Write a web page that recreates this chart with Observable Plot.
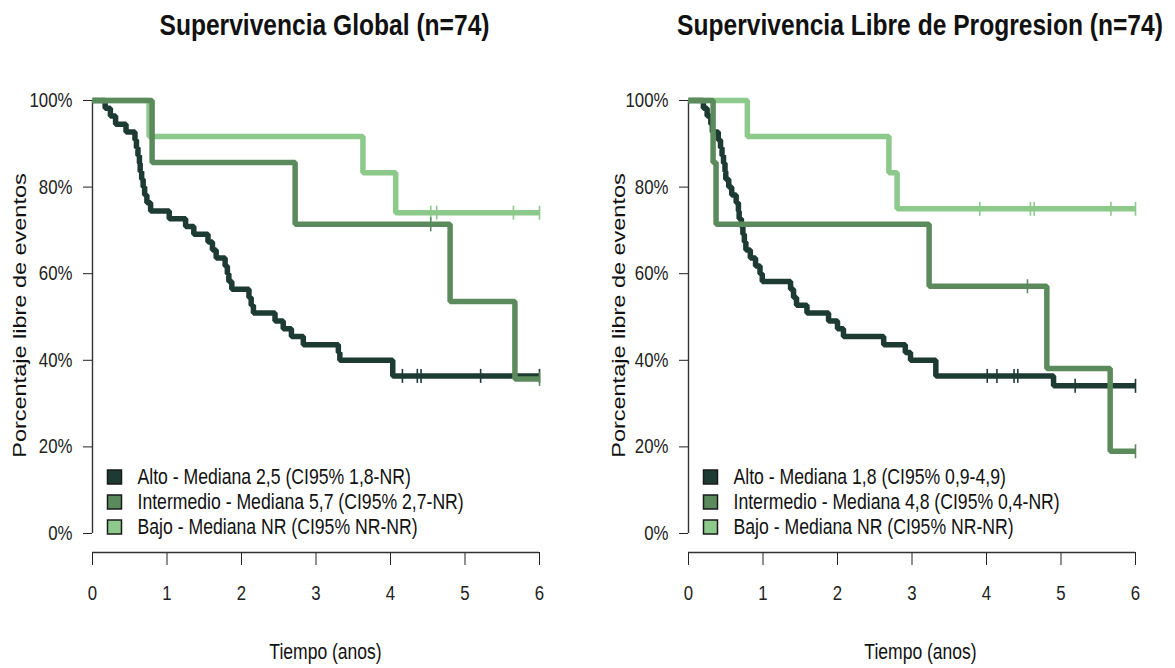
<!DOCTYPE html>
<html><head><meta charset="utf-8">
<script src="https://cdn.jsdelivr.net/npm/d3@7"></script>
<script src="https://cdn.jsdelivr.net/npm/@observablehq/plot@0.6"></script>
<style>
body{margin:0;background:#fff;}
#wrap{display:flex;width:1175px;height:668px;overflow:hidden;}
</style></head><body><div id="wrap"></div>
<script>
// ---------- data ----------
const groups = ["Alto", "Intermedio", "Bajo"];
const drawOrder = ["Alto", "Bajo", "Intermedio"];
const xTicks = [0, 1, 2, 3, 4, 5, 6];
const yTicks = [0, 20, 40, 60, 80, 100];
const yTickLabels = ["0%", "20%", "40%", "60%", "80%", "100%"];
const titles = ["Supervivencia Global (n=74)", "Supervivencia Libre de Progresion (n=74)"];
const xLabel = "Tiempo (anos)";
const yLabel = "Porcentaje libre de eventos";
const legendOS = ["Alto - Mediana 2,5 (CI95% 1,8-NR)", "Intermedio - Mediana 5,7 (CI95% 2,7-NR)", "Bajo - Mediana NR (CI95% NR-NR)"];
const legendPFS = ["Alto - Mediana 1,8 (CI95% 0,9-4,9)", "Intermedio - Mediana 4,8 (CI95% 0,4-NR)", "Bajo - Mediana NR (CI95% NR-NR)"];

// Overall survival
const osAltoTimes = [0.17,0.24,0.31,0.45,0.57,0.59,0.61,0.63,0.64,0.66,0.68,0.70,0.73,0.78,1.03,1.25,1.36,1.55,1.61,1.66,1.78,1.81,1.83,1.87,2.10,2.13,2.16,2.45,2.56,2.67,2.83,3.30,3.32,4.03];
const osAltoSurv  = [98.2,96.4,94.5,92.7,90.9,89.1,87.3,85.5,83.6,81.8,80.0,78.2,76.4,74.5,72.7,70.9,69.1,67.3,65.5,63.6,61.8,60.0,58.2,56.4,54.5,52.7,50.9,49.1,47.3,45.5,43.6,41.8,40.0,36.4];
const osAltoCens  = [4.16,4.36,4.41,5.21,6.0];
const osIntTimes  = [0.80,2.72,4.80,5.67];
const osIntSurv   = [85.7,71.4,53.6,35.7];
const osIntCens   = [4.54,6.0];
const osBajoTimes = [0.76,3.63,4.07];
const osBajoSurv  = [91.7,83.3,74.1];
const osBajoCens  = [4.54,4.62,5.65,6.0];

// Progression-free survival
const pfsAltoTimes = [0.20,0.25,0.30,0.32,0.40,0.43,0.45,0.47,0.49,0.50,0.54,0.58,0.64,0.67,0.68,0.71,0.73,0.75,0.77,0.83,0.90,0.96,0.99,1.37,1.41,1.45,1.59,1.88,2.00,2.08,2.62,2.91,2.98,3.32,4.90];
const pfsAltoSurv  = [98.2,96.4,94.5,92.7,90.9,89.1,87.3,85.5,83.6,81.8,80.0,78.2,76.4,74.5,72.7,70.9,69.1,67.3,65.5,63.6,61.8,60.0,58.2,56.4,54.5,52.7,50.9,49.1,47.3,45.5,43.6,41.8,40.0,36.4,34.1];
const pfsAltoCens  = [4.01,4.14,4.37,4.42,5.19,6.0];
const pfsIntTimes  = [0.33,0.37,3.23,4.81,5.66];
const pfsIntSurv   = [85.7,71.4,57.1,38.1,19.0];
const pfsIntCens   = [4.55,6.0];
const pfsBajoTimes = [0.79,2.69,2.80];
const pfsBajoSurv  = [91.7,83.3,75.0];
const pfsBajoCens  = [3.91,4.59,4.64,5.67,6.0];

// ---------- styles ----------
const colors = {Alto: "#1e3b33", Intermedio: "#5b8b5c", Bajo: "#8cc98b"};
const FONT = "'Liberation Sans', Arial, sans-serif";
const NARROW = 0.82; // horizontal condensation of the reference's lettering

function buildCurve(times, surv, cens) {
  const end = Math.max(times[times.length - 1], ...cens);
  const pts = [{t: 0, s: 100}];
  times.forEach((t, i) => pts.push({t, s: surv[i]}));
  pts.push({t: end, s: surv[surv.length - 1]});
  const survAt = (t) => { let s = 100; times.forEach((ti, i) => { if (ti <= t) s = surv[i]; }); return s; };
  const marks = cens.map(t => ({t, s: survAt(t)}));
  return {pts, marks};
}

const censorSymbol = {draw(ctx, size) { const h = Math.sqrt(size / Math.PI); ctx.moveTo(0, -h); ctx.lineTo(0, h); }};

function panel({width, ml, mr, title, dxTitle, dxXLab, dxYLab, legend, curves}) {
  const marks = [
    Plot.axisY({ticks: yTicks, tickFormat: d => yTickLabels[yTicks.indexOf(d)], tickSize: 9, tickPadding: 11, fontSize: 20.5, label: null}),
    Plot.ruleX([0], {y1: 0, y2: 100, stroke: "#333", strokeWidth: 1.4}),
    Plot.axisX({ticks: xTicks, tickFormat: d => String(d), tickSize: 13, tickPadding: 20, fontSize: 20.5, label: null}),
    Plot.ruleY([0], {x1: 0, x2: 6, dy: 19, stroke: "#333", strokeWidth: 1.4}),
    Plot.text([title], {frameAnchor: "top", dx: dxTitle, dy: -75, fontSize: 30, fontWeight: "bold", textAnchor: "middle", lineAnchor: "middle", fill: "#111"}),
    Plot.text([xLabel], {frameAnchor: "bottom", dx: dxXLab, dy: 100, fontSize: 21.4, textAnchor: "middle", lineAnchor: "middle", fill: "#111"}),
    Plot.text([yLabel], {frameAnchor: "left", dx: dxYLab, dy: -11, rotate: -90, fontSize: 23.5, textAnchor: "middle", lineAnchor: "middle", fill: "#111", className: "ylab"})
  ];
  for (const g of drawOrder) {
    const c = curves[g];
    marks.push(Plot.line(c.pts, {x: "t", y: "s", curve: "step-after", stroke: colors[g], strokeWidth: 5.5, strokeLinejoin: "miter", strokeLinecap: "butt"}));
    marks.push(Plot.dot(c.marks, {x: "t", y: "s", symbol: censorSymbol, r: 7, fill: "none", stroke: colors[g], strokeWidth: 1.6}));
  }
  groups.forEach((g, i) => {
    marks.push(Plot.dot([g], {frameAnchor: "bottom-left", dx: 22, dy: -75.5 + 25 * i, symbol: "square", r: 7.9, fill: colors[g], stroke: "#1a1a1a", strokeWidth: 1.5}));
    marks.push(Plot.text([legend[i]], {frameAnchor: "bottom-left", dx: 45, dy: -75.5 + 25 * i, textAnchor: "start", lineAnchor: "middle", fontSize: 21.5, fill: "#111"}));
  });
  const svg = Plot.plot({
    width, height: 668,
    marginLeft: ml, marginRight: mr, marginTop: 100, marginBottom: 116,
    x: {domain: [0, 6]},
    y: {domain: [0, 100], range: [533, 100]},
    style: {fontFamily: FONT, color: "#222", background: "#fff", overflow: "visible"},
    marks
  });
  // condense lettering like the reference (narrow sans)
  d3.select(svg).selectAll("text").each(function() {
    const rotated = this.closest(".ylab") !== null;
    const tr = this.getAttribute("transform") || "";
    this.setAttribute("transform", tr + (rotated ? ` scale(1,${NARROW})` : ` scale(${NARROW},1)`));
  });
  return svg;
}

const osCurves = {
  Alto: buildCurve(osAltoTimes, osAltoSurv, osAltoCens),
  Intermedio: buildCurve(osIntTimes, osIntSurv, osIntCens),
  Bajo: buildCurve(osBajoTimes, osBajoSurv, osBajoCens)
};
const pfsCurves = {
  Alto: buildCurve(pfsAltoTimes, pfsAltoSurv, pfsAltoCens),
  Intermedio: buildCurve(pfsIntTimes, pfsIntSurv, pfsIntCens),
  Bajo: buildCurve(pfsBajoTimes, pfsBajoSurv, pfsBajoCens)
};

const wrap = document.getElementById("wrap");
wrap.appendChild(panel({width: 587, ml: 92, mr: 48, title: titles[0], dxTitle: 8.5, dxXLab: 9.5, dxYLab: -73, legend: legendOS, curves: osCurves}));
wrap.appendChild(panel({width: 588, ml: 101, mr: 40, title: titles[1], dxTitle: 8, dxXLab: 8.5, dxYLab: -70, legend: legendPFS, curves: pfsCurves}));
</script></body></html>
